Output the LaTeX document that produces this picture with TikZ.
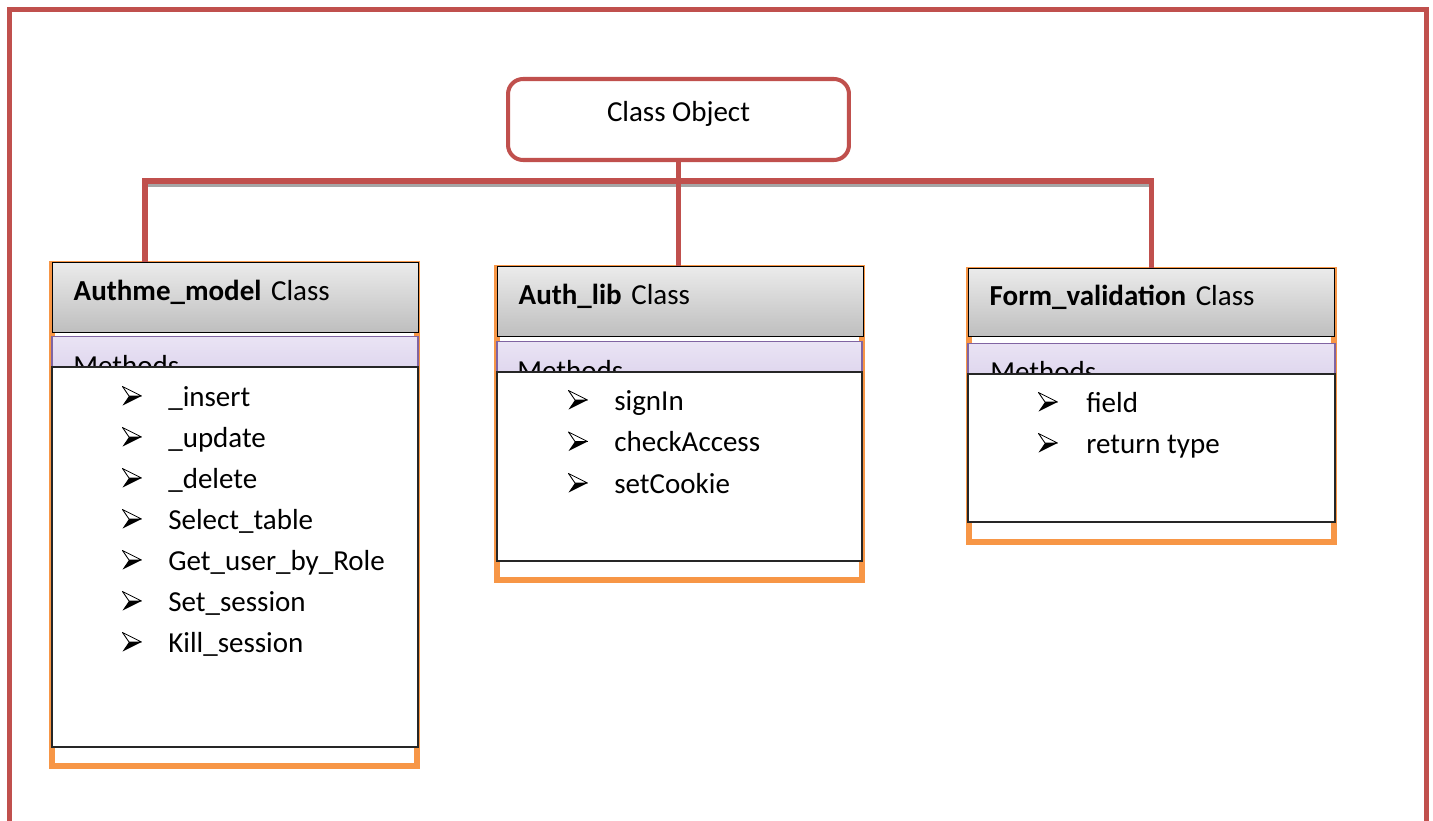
\documentclass[tikz,border=0pt]{standalone}
\usepackage{fontspec}
\setmainfont{Carlito}
\usetikzlibrary{positioning,calc}
\definecolor{framered}{HTML}{C0504D}
\definecolor{boxorange}{HTML}{F79646}
\definecolor{bandline}{HTML}{8064A2}
\definecolor{bandtop}{HTML}{EBE5F5}
\definecolor{bandbot}{HTML}{D8CEEA}
\definecolor{headtop}{HTML}{EBEBEB}
\definecolor{headbot}{HTML}{BEBEBE}
\tikzset{
    % frame and connector lines
    outerframe/.style={draw=framered, line width=2.85pt},
    link/.style={draw=framered, line width=2.85pt, line join=miter},
    linkshadow/.style={draw=black!35, line width=2.3pt},
    % root box
    root/.style={draw=framered, line width=2.3pt, rounded corners=0.3cm, fill=white,
           minimum width=6.82cm, minimum height=1.62cm,
           text height=0.4cm, text depth=0.3cm, inner sep=0pt},
    % class boxes
    classhead/.style={draw=black, line width=0.8pt, top color=headtop, bottom color=headbot,
           minimum width=7.32cm, minimum height=1.4cm, text width=6.48cm,
           inner xsep=0.42cm, inner ysep=0pt, text height=0.42cm, text depth=0.3cm,
           align=left, anchor=north west},
    orangebox/.style={draw=boxorange, line width=3.4pt},
    band/.style={draw=bandline, line width=0.6pt, top color=bandtop, bottom color=bandbot},
    body/.style={draw=black!85, line width=0.8pt, fill=white},
    item/.style={anchor=base west, inner sep=0pt},
    % list bullet
    bul/.pic={
           \draw[line width=0.5pt, fill=white, line join=round] (9.5,0) -- (-9.5,-9.5) -- (-3,0) -- cycle;
           \fill[line join=round] (9.5,0) -- (-3,0) -- (-9.5,9.5) -- cycle;
    }
}

\begin{document}
\begin{tikzpicture}[x=0.02cm, y=-0.02cm, font=\fontsize{16.5}{20}\selectfont]

\useasboundingbox (0,0) rectangle (1433,821);

% outer frame
\draw [outerframe] (9.5,840) -- (9.5,9.5) -- (1426.5,9.5) -- (1426.5,840);

% Authme_model box
\draw [orangebox] (52,264) rectangle (417,766);
\node [classhead] (authme) at (52,262) {\textbf{Authme\_model} Class};
\draw [band] (authme.south west) ++(0,3) rectangle (418,390);
\node [item] at (73,375) {Methods};
\draw [body] (52,367) rectangle (418,747);
\foreach \t [count=\i from 0] in {\_insert,\_update,\_delete,Select\_table,Get\_user\_by\_Role,Set\_session,Kill\_session}
    {\path (132,{396+41*\i}) pic {bul};
     \node [item] at (168,{406+41*\i}) {\t};}

% Auth_lib box
\draw [orangebox] (497,268) rectangle (862,580);
\node [classhead] (authlib) at (497,266) {\textbf{Auth\_lib} Class};
\draw [band] (authlib.south west) ++(0,4) rectangle (862,395);
\node [item] at (517,380) {Methods};
\draw [body] (497,372) rectangle (862,561);
\foreach \t [count=\i from 0] in {signIn,checkAccess,setCookie}
    {\path (578,{400+41.5*\i}) pic {bul};
     \node [item] at (614,{410+41.5*\i}) {\t};}

% Form_validation box
\draw [orangebox] (969,270) rectangle (1334,542);
\node [classhead, minimum height=1.36cm] (formval) at (968,268) {\textbf{Form\_validation} Class};
\draw [band] (formval.south west) ++(0,6) rectangle (1335,397);
\node [item] at (990,381) {Methods};
\draw [body] (968,374) rectangle (1335,522);
\foreach \t [count=\i from 0] in {field,return type}
    {\path (1048,{402+41*\i}) pic {bul};
     \node [item] at (1086,{412+41*\i}) {\t};}

% root
\node [root] (root) at (678.5,119.5) {Class Object};

% connectors
\coordinate (barL) at (145,181);
\coordinate (barR) at (formval.north |- barL);
\draw [linkshadow] ($(barL)+(3,4)$) -- ($(barR)+(-3,4)$);
\draw [link] (authme.north -| barL) -- (barL) -- (barR) -- (formval.north);
\draw [link] (root.south) -- (root.south |- authlib.north);

\end{tikzpicture}
\end{document}
